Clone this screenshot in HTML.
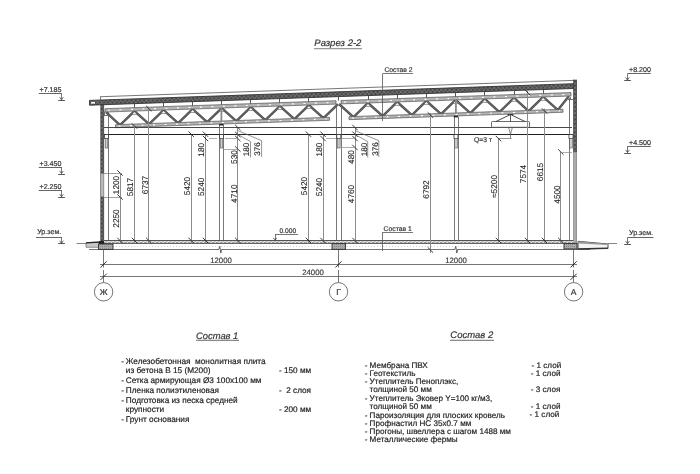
<!DOCTYPE html>
<html><head><meta charset="utf-8"><style>
html,body{margin:0;padding:0;background:#fff;}
svg{display:block;filter:grayscale(1) blur(0.3px);text-rendering:geometricPrecision;font-family:"Liberation Sans",sans-serif;}
</style></head><body>
<svg width="700" height="474" viewBox="0 0 700 474">
<defs>
<pattern id="hatch" width="3" height="3" patternUnits="userSpaceOnUse" patternTransform="rotate(45)"><rect width="3" height="3" fill="#474747"/><rect width="3" height="0.7" fill="#7a7a7a"/><rect width="0.7" height="3" fill="#7a7a7a"/></pattern>
<pattern id="hatch2" width="4" height="3.5" patternUnits="userSpaceOnUse"><rect width="4" height="3.5" fill="#e0e0e0"/><rect x="0" y="1" width="2.6" height="0.9" fill="#666"/><rect x="2" y="2.2" width="2.6" height="0.9" fill="#777"/></pattern>
<pattern id="hatch3" width="2" height="2" patternUnits="userSpaceOnUse"><rect width="2" height="2" fill="#aaa"/><rect width="1" height="1" fill="#888"/></pattern>
</defs>
<rect width="700" height="474" fill="#fff"/>
<line x1="100.00" y1="96.74" x2="573.50" y2="80.40" stroke="#666" stroke-width="0.9" />
<line x1="100.50" y1="96.74" x2="100.50" y2="100.04" stroke="#666" stroke-width="0.8" />
<polygon points="89.50,100.40 573.50,83.70 573.50,88.50 89.50,105.20" fill="url(#hatch)" stroke="#333" stroke-width="0.9" />
<rect x="91.00" y="101.95" width="4.00" height="1.70" fill="#fff" stroke="none" stroke-width="0.9" />
<polyline points="106.00,112.03 120.00,125.15 134.50,111.05 149.07,124.14 163.57,110.04 178.14,123.14 192.64,109.04 207.21,122.14 221.71,108.04 236.28,121.14 250.78,107.04 265.35,120.13 279.85,106.03 294.42,119.13 308.92,105.03 323.49,118.13 338.00,104.03" fill="none" stroke="#4d4d4d" stroke-width="2.4" stroke-linejoin="miter"/>
<polyline points="106.00,112.03 120.00,125.15 134.50,111.05 149.07,124.14 163.57,110.04 178.14,123.14 192.64,109.04 207.21,122.14 221.71,108.04 236.28,121.14 250.78,107.04 265.35,120.13 279.85,106.03 294.42,119.13 308.92,105.03 323.49,118.13 338.00,104.03" fill="none" stroke="#8a8a8a" stroke-width="0.5" stroke-linejoin="miter"/>
<polygon points="131.90,114.45 137.10,114.45 134.50,111.65" fill="#fff" stroke="#555" stroke-width="0.6" />
<polygon points="160.97,113.44 166.17,113.44 163.57,110.64" fill="#fff" stroke="#555" stroke-width="0.6" />
<polygon points="190.04,112.44 195.24,112.44 192.64,109.64" fill="#fff" stroke="#555" stroke-width="0.6" />
<polygon points="219.11,111.44 224.31,111.44 221.71,108.64" fill="#fff" stroke="#555" stroke-width="0.6" />
<polygon points="248.18,110.44 253.38,110.44 250.78,107.64" fill="#fff" stroke="#555" stroke-width="0.6" />
<polygon points="277.25,109.43 282.45,109.43 279.85,106.63" fill="#fff" stroke="#555" stroke-width="0.6" />
<polygon points="306.32,108.43 311.52,108.43 308.92,105.63" fill="#fff" stroke="#555" stroke-width="0.6" />
<polygon points="105.00,108.67 336.00,100.70 336.00,104.10 105.00,112.07" fill="#b4b4b4" stroke="#555" stroke-width="0.7" />
<line x1="108.00" y1="110.26" x2="333.00" y2="102.50" stroke="#fff" stroke-width="1.1" stroke-dasharray="2 9.5"/>
<polygon points="115.50,124.70 329.50,117.32 329.50,120.32 115.50,127.70" fill="#b4b4b4" stroke="#555" stroke-width="0.7" />
<line x1="118.50" y1="126.10" x2="326.50" y2="118.92" stroke="#fff" stroke-width="1.1" stroke-dasharray="2 9.5"/>
<polyline points="339.00,103.99 353.50,117.09 368.00,102.99 382.70,116.08 397.20,101.98 411.90,115.08 426.40,100.98 441.10,114.07 455.60,99.97 470.30,113.06 484.80,98.96 499.50,112.06 514.00,97.95 528.70,111.05 543.20,96.95 557.90,110.04 569.00,96.06" fill="none" stroke="#4d4d4d" stroke-width="2.4" stroke-linejoin="miter"/>
<polyline points="339.00,103.99 353.50,117.09 368.00,102.99 382.70,116.08 397.20,101.98 411.90,115.08 426.40,100.98 441.10,114.07 455.60,99.97 470.30,113.06 484.80,98.96 499.50,112.06 514.00,97.95 528.70,111.05 543.20,96.95 557.90,110.04 569.00,96.06" fill="none" stroke="#8a8a8a" stroke-width="0.5" stroke-linejoin="miter"/>
<polygon points="365.40,106.39 370.60,106.39 368.00,103.59" fill="#fff" stroke="#555" stroke-width="0.6" />
<polygon points="394.60,105.38 399.80,105.38 397.20,102.58" fill="#fff" stroke="#555" stroke-width="0.6" />
<polygon points="423.80,104.38 429.00,104.38 426.40,101.58" fill="#fff" stroke="#555" stroke-width="0.6" />
<polygon points="453.00,103.37 458.20,103.37 455.60,100.57" fill="#fff" stroke="#555" stroke-width="0.6" />
<polygon points="482.20,102.36 487.40,102.36 484.80,99.56" fill="#fff" stroke="#555" stroke-width="0.6" />
<polygon points="511.40,101.35 516.60,101.35 514.00,98.55" fill="#fff" stroke="#555" stroke-width="0.6" />
<polygon points="540.60,100.35 545.80,100.35 543.20,97.55" fill="#fff" stroke="#555" stroke-width="0.6" />
<polygon points="341.00,100.52 571.00,92.59 571.00,95.99 341.00,103.92" fill="#b4b4b4" stroke="#555" stroke-width="0.7" />
<line x1="344.00" y1="102.12" x2="568.00" y2="94.39" stroke="#fff" stroke-width="1.1" stroke-dasharray="2 9.5"/>
<polygon points="349.00,116.65 563.00,109.26 563.00,112.26 349.00,119.65" fill="#b4b4b4" stroke="#555" stroke-width="0.7" />
<line x1="352.00" y1="118.04" x2="560.00" y2="110.87" stroke="#fff" stroke-width="1.1" stroke-dasharray="2 9.5"/>
<line x1="104.50" y1="111.50" x2="104.50" y2="115.20" stroke="#555" stroke-width="0.8" />
<line x1="103.80" y1="115.50" x2="108.50" y2="115.50" stroke="#555" stroke-width="0.8" />
<line x1="570.50" y1="97.00" x2="570.50" y2="99.50" stroke="#555" stroke-width="0.8" />
<line x1="568.00" y1="99.50" x2="573.50" y2="99.50" stroke="#555" stroke-width="0.8" />
<line x1="134.50" y1="103.65" x2="134.50" y2="107.65" stroke="#444" stroke-width="0.9" />
<line x1="163.50" y1="102.64" x2="163.50" y2="106.64" stroke="#444" stroke-width="0.9" />
<line x1="192.50" y1="101.64" x2="192.50" y2="105.64" stroke="#444" stroke-width="0.9" />
<line x1="221.50" y1="100.64" x2="221.50" y2="104.64" stroke="#444" stroke-width="0.9" />
<line x1="250.50" y1="99.64" x2="250.50" y2="103.64" stroke="#444" stroke-width="0.9" />
<line x1="279.50" y1="98.63" x2="279.50" y2="102.63" stroke="#444" stroke-width="0.9" />
<line x1="308.50" y1="97.63" x2="308.50" y2="101.63" stroke="#444" stroke-width="0.9" />
<line x1="368.50" y1="95.59" x2="368.50" y2="99.59" stroke="#444" stroke-width="0.9" />
<line x1="397.50" y1="94.58" x2="397.50" y2="98.58" stroke="#444" stroke-width="0.9" />
<line x1="426.50" y1="93.58" x2="426.50" y2="97.58" stroke="#444" stroke-width="0.9" />
<line x1="455.50" y1="92.57" x2="455.50" y2="96.57" stroke="#444" stroke-width="0.9" />
<line x1="484.50" y1="91.56" x2="484.50" y2="95.56" stroke="#444" stroke-width="0.9" />
<line x1="514.50" y1="90.55" x2="514.50" y2="94.55" stroke="#444" stroke-width="0.9" />
<line x1="543.50" y1="89.55" x2="543.50" y2="93.55" stroke="#444" stroke-width="0.9" />
<line x1="338.50" y1="96.61" x2="338.50" y2="100.61" stroke="#444" stroke-width="0.9" />
<line x1="104.00" y1="127.50" x2="572.00" y2="127.50" stroke="#333" stroke-width="0.9" />
<line x1="104.00" y1="134.50" x2="572.00" y2="134.50" stroke="#222" stroke-width="1.0" />
<rect x="100.80" y="104.84" width="3.00" height="138.16" fill="url(#hatch)" stroke="#333" stroke-width="0.6" />
<rect x="100.90" y="173.50" width="2.80" height="23.00" fill="#b8b8b8" stroke="none" stroke-width="0.9" />
<rect x="573.50" y="80.00" width="3.20" height="72.00" fill="url(#hatch)" stroke="#333" stroke-width="0.6" />
<rect x="573.50" y="152.00" width="3.20" height="91.00" fill="#aaa" stroke="#666" stroke-width="0.5" />
<line x1="108.50" y1="112.00" x2="108.50" y2="240.50" stroke="#555" stroke-width="0.8" />
<line x1="219.50" y1="125.00" x2="219.50" y2="240.50" stroke="#555" stroke-width="0.8" />
<line x1="223.50" y1="125.00" x2="223.50" y2="240.50" stroke="#555" stroke-width="0.8" />
<line x1="336.50" y1="107.00" x2="336.50" y2="240.50" stroke="#555" stroke-width="0.8" />
<line x1="341.50" y1="107.00" x2="341.50" y2="240.50" stroke="#555" stroke-width="0.8" />
<line x1="454.50" y1="117.00" x2="454.50" y2="240.50" stroke="#555" stroke-width="0.8" />
<line x1="458.50" y1="117.00" x2="458.50" y2="240.50" stroke="#555" stroke-width="0.8" />
<line x1="569.50" y1="98.00" x2="569.50" y2="240.50" stroke="#555" stroke-width="0.8" />
<line x1="221.40" y1="108.05" x2="221.40" y2="121.05" stroke="#888" stroke-width="1.8" />
<rect x="219.20" y="123.85" width="4.40" height="1.60" fill="#222" stroke="none" stroke-width="0.9" />
<line x1="455.90" y1="99.96" x2="455.90" y2="112.96" stroke="#888" stroke-width="1.8" />
<rect x="453.70" y="115.76" width="4.40" height="1.60" fill="#222" stroke="none" stroke-width="0.9" />
<rect x="104.50" y="134.50" width="4.00" height="4.00" fill="#fff" stroke="#333" stroke-width="0.8" />
<rect x="105.20" y="138.50" width="2.60" height="9.50" fill="#ccc" stroke="#555" stroke-width="0.6" />
<rect x="219.50" y="134.50" width="4.00" height="4.00" fill="#fff" stroke="#333" stroke-width="0.8" />
<rect x="220.20" y="138.50" width="2.60" height="9.50" fill="#ccc" stroke="#555" stroke-width="0.6" />
<rect x="336.80" y="134.50" width="4.00" height="4.00" fill="#fff" stroke="#333" stroke-width="0.8" />
<rect x="337.50" y="138.50" width="2.60" height="9.50" fill="#ccc" stroke="#555" stroke-width="0.6" />
<rect x="454.00" y="134.50" width="4.00" height="4.00" fill="#fff" stroke="#333" stroke-width="0.8" />
<rect x="454.70" y="138.50" width="2.60" height="9.50" fill="#ccc" stroke="#555" stroke-width="0.6" />
<rect x="569.00" y="134.50" width="4.00" height="4.00" fill="#fff" stroke="#333" stroke-width="0.8" />
<rect x="569.70" y="138.50" width="2.60" height="9.50" fill="#ccc" stroke="#555" stroke-width="0.6" />
<rect x="491.50" y="121.50" width="38.00" height="5.80" fill="#fff" stroke="#444" stroke-width="0.8" rx="0.8"/>
<polyline points="496.00,121.50 510.50,114.50 525.00,121.50" fill="none" stroke="#333" stroke-width="0.9" />
<line x1="510.50" y1="114.50" x2="510.50" y2="121.50" stroke="#333" stroke-width="0.8" />
<line x1="507.50" y1="114.50" x2="513.50" y2="114.50" stroke="#333" stroke-width="0.9" />
<polyline points="508.70,127.80 510.50,134.30 512.30,127.80" fill="none" stroke="#555" stroke-width="0.7" />
<polyline points="510.50,134.30 510.50,138.00 511.50,138.50" fill="none" stroke="#555" stroke-width="0.7" />
<line x1="498.50" y1="138.50" x2="511.00" y2="138.50" stroke="#666" stroke-width="0.7" />
<rect x="104.00" y="240.50" width="469.50" height="3.00" fill="url(#hatch2)" stroke="none" stroke-width="0.9" />
<line x1="104.00" y1="240.50" x2="573.50" y2="240.50" stroke="#444" stroke-width="0.9" />
<line x1="104.00" y1="243.50" x2="573.50" y2="243.50" stroke="#555" stroke-width="0.9" />
<line x1="104.00" y1="246.50" x2="573.50" y2="246.50" stroke="#bbb" stroke-width="0.6" stroke-dasharray="1 2"/>
<line x1="89.00" y1="249.50" x2="590.00" y2="249.50" stroke="#555" stroke-width="0.8" />
<line x1="76.50" y1="243.50" x2="86.00" y2="243.50" stroke="#777" stroke-width="0.9" />
<polygon points="86.00,242.60 99.00,242.00 99.00,247.30 86.00,247.30" fill="#c8c8c8" stroke="#555" stroke-width="0.6" />
<line x1="86.00" y1="242.80" x2="99.00" y2="242.20" stroke="#222" stroke-width="1.3" />
<rect x="99.00" y="241.00" width="5.00" height="3.00" fill="#222" stroke="none" stroke-width="0.9" />
<rect x="98.50" y="244.00" width="14.50" height="5.50" fill="url(#hatch3)" stroke="#333" stroke-width="0.9" />
<rect x="332.00" y="243.50" width="13.50" height="6.00" fill="url(#hatch3)" stroke="#333" stroke-width="0.9" />
<rect x="564.00" y="243.50" width="13.00" height="5.50" fill="url(#hatch3)" stroke="#333" stroke-width="0.9" />
<polygon points="578.00,241.30 608.00,244.00 608.00,248.50 578.00,249.30" fill="#f4f4f4" stroke="#333" stroke-width="0.9" />
<polygon points="578.00,241.30 608.00,244.00 608.00,245.00 578.00,243.50" fill="#999" stroke="none" stroke-width="0.9" />
<line x1="578.00" y1="248.80" x2="608.00" y2="248.10" stroke="#333" stroke-width="1.2" />
<line x1="608.00" y1="243.50" x2="617.00" y2="243.50" stroke="#777" stroke-width="0.9" />
<rect x="217.50" y="247.50" width="5.00" height="4.00" fill="#fff" stroke="none" stroke-width="0.9" />
<polyline points="217.00,249.50 218.80,249.50 219.80,246.30 220.80,253.00 221.60,249.50 223.00,249.50" fill="none" stroke="#444" stroke-width="0.8" />
<rect x="453.50" y="247.50" width="5.00" height="4.00" fill="#fff" stroke="none" stroke-width="0.9" />
<polyline points="453.00,249.50 454.80,249.50 455.80,246.30 456.80,253.00 457.60,249.50 459.00,249.50" fill="none" stroke="#444" stroke-width="0.8" />
<line x1="103.50" y1="249.50" x2="103.50" y2="267.50" stroke="#555" stroke-width="0.8" />
<line x1="103.50" y1="270.00" x2="103.50" y2="283.00" stroke="#555" stroke-width="0.8" />
<circle cx="103.60" cy="291.8" r="9.2" fill="#fff" stroke="#666" stroke-width="0.9"/>
<text x="103.60" y="295.20" font-size="8.5" text-anchor="middle" fill="#333" stroke="#333" stroke-width="0.18" >Ж</text>
<line x1="338.50" y1="249.50" x2="338.50" y2="267.50" stroke="#555" stroke-width="0.8" />
<line x1="338.50" y1="270.00" x2="338.50" y2="283.00" stroke="#555" stroke-width="0.8" />
<circle cx="338.50" cy="291.8" r="9.2" fill="#fff" stroke="#666" stroke-width="0.9"/>
<text x="338.50" y="295.20" font-size="8.5" text-anchor="middle" fill="#333" stroke="#333" stroke-width="0.18" >Г</text>
<line x1="573.50" y1="249.50" x2="573.50" y2="267.50" stroke="#555" stroke-width="0.8" />
<line x1="573.50" y1="270.00" x2="573.50" y2="283.00" stroke="#555" stroke-width="0.8" />
<circle cx="573.60" cy="291.8" r="9.2" fill="#fff" stroke="#666" stroke-width="0.9"/>
<text x="573.60" y="295.20" font-size="8.5" text-anchor="middle" fill="#333" stroke="#333" stroke-width="0.18" >А</text>
<line x1="100.00" y1="264.50" x2="577.00" y2="264.50" stroke="#666" stroke-width="0.9" />
<line x1="100.00" y1="276.50" x2="577.00" y2="276.50" stroke="#666" stroke-width="0.9" />
<line x1="100.50" y1="267.50" x2="106.70" y2="261.30" stroke="#222" stroke-width="0.9" />
<line x1="335.40" y1="267.50" x2="341.60" y2="261.30" stroke="#222" stroke-width="0.9" />
<line x1="570.50" y1="267.50" x2="576.70" y2="261.30" stroke="#222" stroke-width="0.9" />
<line x1="100.50" y1="279.90" x2="106.70" y2="273.70" stroke="#222" stroke-width="0.9" />
<line x1="570.50" y1="279.90" x2="576.70" y2="273.70" stroke="#222" stroke-width="0.9" />
<text x="221.00" y="262.50" font-size="7.8" text-anchor="middle" fill="#444" stroke="#444" stroke-width="0.18" >12000</text>
<text x="456.00" y="262.50" font-size="7.8" text-anchor="middle" fill="#444" stroke="#444" stroke-width="0.18" >12000</text>
<text x="313.00" y="275.40" font-size="7.8" text-anchor="middle" fill="#444" stroke="#444" stroke-width="0.18" >24000</text>
<line x1="120.50" y1="173.00" x2="120.50" y2="243.50" stroke="#8c8c8c" stroke-width="1.0" />
<line x1="117.30" y1="170.30" x2="122.70" y2="175.70" stroke="#222" stroke-width="0.9" />
<line x1="117.30" y1="194.30" x2="122.70" y2="199.70" stroke="#222" stroke-width="0.9" />
<line x1="117.30" y1="237.80" x2="122.70" y2="243.20" stroke="#222" stroke-width="0.9" />
<text x="0" y="0" font-size="8.3" text-anchor="middle" fill="#222" stroke="#222" stroke-width="0.108" transform="translate(118.79,185.00) rotate(-90)">1200</text>
<text x="0" y="0" font-size="8.3" text-anchor="middle" fill="#222" stroke="#222" stroke-width="0.108" transform="translate(118.79,218.50) rotate(-90)">2250</text>
<line x1="134.50" y1="126.00" x2="134.50" y2="243.50" stroke="#8c8c8c" stroke-width="1.0" />
<line x1="131.80" y1="123.30" x2="137.20" y2="128.70" stroke="#222" stroke-width="0.9" />
<line x1="131.80" y1="237.80" x2="137.20" y2="243.20" stroke="#222" stroke-width="0.9" />
<text x="0" y="0" font-size="8.3" text-anchor="middle" fill="#222" stroke="#222" stroke-width="0.108" transform="translate(133.29,187.00) rotate(-90)">5817</text>
<line x1="148.50" y1="108.50" x2="148.50" y2="243.50" stroke="#8c8c8c" stroke-width="1.0" />
<line x1="146.10" y1="105.80" x2="151.50" y2="111.20" stroke="#222" stroke-width="0.9" />
<line x1="146.10" y1="237.80" x2="151.50" y2="243.20" stroke="#222" stroke-width="0.9" />
<text x="0" y="0" font-size="8.3" text-anchor="middle" fill="#222" stroke="#222" stroke-width="0.108" transform="translate(147.59,185.00) rotate(-90)">6737</text>
<line x1="191.50" y1="134.20" x2="191.50" y2="243.50" stroke="#8c8c8c" stroke-width="1.0" />
<line x1="188.50" y1="131.50" x2="193.90" y2="136.90" stroke="#222" stroke-width="0.9" />
<line x1="188.50" y1="237.80" x2="193.90" y2="243.20" stroke="#222" stroke-width="0.9" />
<text x="0" y="0" font-size="8.3" text-anchor="middle" fill="#222" stroke="#222" stroke-width="0.108" transform="translate(189.99,186.00) rotate(-90)">5420</text>
<line x1="205.50" y1="134.20" x2="205.50" y2="243.50" stroke="#8c8c8c" stroke-width="1.0" />
<line x1="202.80" y1="131.50" x2="208.20" y2="136.90" stroke="#222" stroke-width="0.9" />
<line x1="202.80" y1="135.80" x2="208.20" y2="141.20" stroke="#222" stroke-width="0.9" />
<line x1="202.80" y1="237.80" x2="208.20" y2="243.20" stroke="#222" stroke-width="0.9" />
<text x="0" y="0" font-size="8.3" text-anchor="middle" fill="#222" stroke="#222" stroke-width="0.108" transform="translate(204.29,149.80) rotate(-90)">180</text>
<text x="0" y="0" font-size="8.3" text-anchor="middle" fill="#222" stroke="#222" stroke-width="0.108" transform="translate(204.29,186.80) rotate(-90)">5240</text>
<line x1="237.50" y1="127.50" x2="237.50" y2="243.50" stroke="#8c8c8c" stroke-width="1.0" />
<line x1="235.10" y1="124.80" x2="240.50" y2="130.20" stroke="#222" stroke-width="0.9" />
<line x1="235.10" y1="131.80" x2="240.50" y2="137.20" stroke="#222" stroke-width="0.9" />
<line x1="235.10" y1="135.80" x2="240.50" y2="141.20" stroke="#222" stroke-width="0.9" />
<line x1="235.10" y1="146.30" x2="240.50" y2="151.70" stroke="#222" stroke-width="0.9" />
<line x1="235.10" y1="237.80" x2="240.50" y2="243.20" stroke="#222" stroke-width="0.9" />
<text x="0" y="0" font-size="8.3" text-anchor="middle" fill="#222" stroke="#222" stroke-width="0.108" transform="translate(236.59,157.00) rotate(-90)">530</text>
<text x="0" y="0" font-size="8.3" text-anchor="middle" fill="#222" stroke="#222" stroke-width="0.108" transform="translate(236.59,193.70) rotate(-90)">4710</text>
<line x1="308.50" y1="134.20" x2="308.50" y2="243.50" stroke="#8c8c8c" stroke-width="1.0" />
<line x1="305.80" y1="131.50" x2="311.20" y2="136.90" stroke="#222" stroke-width="0.9" />
<line x1="305.80" y1="237.80" x2="311.20" y2="243.20" stroke="#222" stroke-width="0.9" />
<text x="0" y="0" font-size="8.3" text-anchor="middle" fill="#222" stroke="#222" stroke-width="0.108" transform="translate(307.29,186.00) rotate(-90)">5420</text>
<line x1="323.50" y1="134.20" x2="323.50" y2="243.50" stroke="#8c8c8c" stroke-width="1.0" />
<line x1="320.30" y1="131.50" x2="325.70" y2="136.90" stroke="#222" stroke-width="0.9" />
<line x1="320.30" y1="135.80" x2="325.70" y2="141.20" stroke="#222" stroke-width="0.9" />
<line x1="320.30" y1="237.80" x2="325.70" y2="243.20" stroke="#222" stroke-width="0.9" />
<text x="0" y="0" font-size="8.3" text-anchor="middle" fill="#222" stroke="#222" stroke-width="0.108" transform="translate(321.79,149.50) rotate(-90)">180</text>
<text x="0" y="0" font-size="8.3" text-anchor="middle" fill="#222" stroke="#222" stroke-width="0.108" transform="translate(321.79,187.00) rotate(-90)">5240</text>
<line x1="355.50" y1="127.50" x2="355.50" y2="243.50" stroke="#8c8c8c" stroke-width="1.0" />
<line x1="352.30" y1="124.80" x2="357.70" y2="130.20" stroke="#222" stroke-width="0.9" />
<line x1="352.30" y1="131.50" x2="357.70" y2="136.90" stroke="#222" stroke-width="0.9" />
<line x1="352.30" y1="135.80" x2="357.70" y2="141.20" stroke="#222" stroke-width="0.9" />
<line x1="352.30" y1="144.80" x2="357.70" y2="150.20" stroke="#222" stroke-width="0.9" />
<line x1="352.30" y1="237.80" x2="357.70" y2="243.20" stroke="#222" stroke-width="0.9" />
<text x="0" y="0" font-size="8.3" text-anchor="middle" fill="#222" stroke="#222" stroke-width="0.108" transform="translate(353.79,157.00) rotate(-90)">480</text>
<text x="0" y="0" font-size="8.3" text-anchor="middle" fill="#222" stroke="#222" stroke-width="0.108" transform="translate(353.79,194.00) rotate(-90)">4760</text>
<line x1="430.50" y1="113.00" x2="430.50" y2="253.00" stroke="#8c8c8c" stroke-width="1.0" />
<line x1="427.70" y1="112.30" x2="433.10" y2="117.70" stroke="#222" stroke-width="0.9" />
<line x1="427.70" y1="247.30" x2="433.10" y2="252.70" stroke="#222" stroke-width="0.9" />
<text x="0" y="0" font-size="8.3" text-anchor="middle" fill="#222" stroke="#222" stroke-width="0.108" transform="translate(429.19,189.50) rotate(-90)">6792</text>
<line x1="498.50" y1="138.60" x2="498.50" y2="243.50" stroke="#8c8c8c" stroke-width="1.0" />
<line x1="495.80" y1="135.90" x2="501.20" y2="141.30" stroke="#222" stroke-width="0.9" />
<line x1="495.80" y1="237.80" x2="501.20" y2="243.20" stroke="#222" stroke-width="0.9" />
<text x="0" y="0" font-size="8.3" text-anchor="middle" fill="#222" stroke="#222" stroke-width="0.108" transform="translate(497.29,186.50) rotate(-90)">≈5200</text>
<line x1="527.50" y1="90.00" x2="527.50" y2="243.50" stroke="#8c8c8c" stroke-width="1.0" />
<line x1="524.90" y1="89.80" x2="530.30" y2="95.20" stroke="#222" stroke-width="0.9" />
<line x1="524.90" y1="237.80" x2="530.30" y2="243.20" stroke="#222" stroke-width="0.9" />
<text x="0" y="0" font-size="8.3" text-anchor="middle" fill="#222" stroke="#222" stroke-width="0.108" transform="translate(526.39,174.00) rotate(-90)">7574</text>
<line x1="544.50" y1="108.50" x2="544.50" y2="243.50" stroke="#8c8c8c" stroke-width="1.0" />
<line x1="541.80" y1="108.30" x2="547.20" y2="113.70" stroke="#222" stroke-width="0.9" />
<line x1="541.80" y1="237.80" x2="547.20" y2="243.20" stroke="#222" stroke-width="0.9" />
<text x="0" y="0" font-size="8.3" text-anchor="middle" fill="#222" stroke="#222" stroke-width="0.108" transform="translate(543.29,172.00) rotate(-90)">6615</text>
<line x1="560.50" y1="152.00" x2="560.50" y2="243.50" stroke="#8c8c8c" stroke-width="1.0" />
<line x1="558.10" y1="149.30" x2="563.50" y2="154.70" stroke="#222" stroke-width="0.9" />
<line x1="558.10" y1="237.80" x2="563.50" y2="243.20" stroke="#222" stroke-width="0.9" />
<text x="0" y="0" font-size="8.3" text-anchor="middle" fill="#222" stroke="#222" stroke-width="0.108" transform="translate(559.59,194.50) rotate(-90)">4500</text>
<line x1="104.00" y1="173.50" x2="122.00" y2="173.50" stroke="#777" stroke-width="0.7" />
<line x1="104.00" y1="197.50" x2="122.00" y2="197.50" stroke="#777" stroke-width="0.7" />
<line x1="209.00" y1="138.50" x2="217.00" y2="138.50" stroke="#888" stroke-width="0.7" />
<line x1="225.00" y1="138.50" x2="237.80" y2="138.50" stroke="#888" stroke-width="0.7" />
<line x1="223.00" y1="149.50" x2="237.80" y2="149.50" stroke="#888" stroke-width="0.7" />
<line x1="326.00" y1="138.50" x2="336.00" y2="138.50" stroke="#888" stroke-width="0.7" />
<line x1="341.00" y1="138.50" x2="355.00" y2="138.50" stroke="#888" stroke-width="0.7" />
<line x1="341.00" y1="147.50" x2="355.00" y2="147.50" stroke="#888" stroke-width="0.7" />
<line x1="560.80" y1="152.50" x2="572.00" y2="152.50" stroke="#888" stroke-width="0.7" />
<polyline points="237.80,134.50 250.50,141.50 250.50,157.50" fill="none" stroke="#666" stroke-width="0.7" />
<polyline points="238.10,130.70 261.60,140.70 261.60,157.00" fill="none" stroke="#666" stroke-width="0.7" />
<text x="0" y="0" font-size="8.1" text-anchor="middle" fill="#222" stroke="#222" stroke-width="0.108" transform="translate(249.32,149.60) rotate(-90)">180</text>
<text x="0" y="0" font-size="8.1" text-anchor="middle" fill="#222" stroke="#222" stroke-width="0.108" transform="translate(260.32,148.90) rotate(-90)">376</text>
<polyline points="355.00,134.50 367.70,141.50 367.70,157.50" fill="none" stroke="#666" stroke-width="0.7" />
<polyline points="355.30,130.70 378.80,140.70 378.80,157.00" fill="none" stroke="#666" stroke-width="0.7" />
<text x="0" y="0" font-size="8.1" text-anchor="middle" fill="#222" stroke="#222" stroke-width="0.108" transform="translate(366.52,149.60) rotate(-90)">180</text>
<text x="0" y="0" font-size="8.1" text-anchor="middle" fill="#222" stroke="#222" stroke-width="0.108" transform="translate(377.52,148.90) rotate(-90)">376</text>
<text x="39.50" y="92.00" font-size="7.1" text-anchor="start" fill="#333" stroke="#333" stroke-width="0.18" >+7.185</text>
<line x1="38.80" y1="93.50" x2="62.00" y2="93.50" stroke="#555" stroke-width="0.9" />
<line x1="61.50" y1="93.50" x2="61.50" y2="99.80" stroke="#555" stroke-width="0.8" />
<polyline points="59.70,97.20 61.50,99.80 63.30,97.20" fill="none" stroke="#444" stroke-width="0.8" />
<line x1="58.20" y1="100.50" x2="64.90" y2="100.50" stroke="#444" stroke-width="0.9" />
<text x="39.50" y="165.75" font-size="7.1" text-anchor="start" fill="#333" stroke="#333" stroke-width="0.18" >+3.450</text>
<line x1="38.80" y1="167.50" x2="62.00" y2="167.50" stroke="#555" stroke-width="0.9" />
<line x1="61.50" y1="167.25" x2="61.50" y2="173.55" stroke="#555" stroke-width="0.8" />
<polyline points="59.70,170.95 61.50,173.55 63.30,170.95" fill="none" stroke="#444" stroke-width="0.8" />
<line x1="58.20" y1="174.50" x2="64.90" y2="174.50" stroke="#444" stroke-width="0.9" />
<text x="39.50" y="189.00" font-size="7.1" text-anchor="start" fill="#333" stroke="#333" stroke-width="0.18" >+2.250</text>
<line x1="38.80" y1="190.50" x2="62.00" y2="190.50" stroke="#555" stroke-width="0.9" />
<line x1="61.50" y1="190.50" x2="61.50" y2="196.80" stroke="#555" stroke-width="0.8" />
<polyline points="59.70,194.20 61.50,196.80 63.30,194.20" fill="none" stroke="#444" stroke-width="0.8" />
<line x1="58.20" y1="197.50" x2="64.90" y2="197.50" stroke="#444" stroke-width="0.9" />
<text x="37.20" y="234.40" font-size="7.1" text-anchor="start" fill="#333" stroke="#333" stroke-width="0.18" >Ур.зем.</text>
<line x1="36.00" y1="237.50" x2="62.00" y2="237.50" stroke="#555" stroke-width="0.9" />
<line x1="61.50" y1="237.00" x2="61.50" y2="243.30" stroke="#555" stroke-width="0.8" />
<polyline points="59.70,240.70 61.50,243.30 63.30,240.70" fill="none" stroke="#444" stroke-width="0.8" />
<line x1="58.20" y1="243.50" x2="64.90" y2="243.50" stroke="#444" stroke-width="0.9" />
<text x="629.00" y="72.25" font-size="7.1" text-anchor="start" fill="#333" stroke="#333" stroke-width="0.18" >+8.200</text>
<line x1="627.50" y1="73.50" x2="650.80" y2="73.50" stroke="#555" stroke-width="0.9" />
<line x1="627.50" y1="73.75" x2="627.50" y2="80.05" stroke="#555" stroke-width="0.8" />
<polyline points="625.70,77.45 627.50,80.05 629.30,77.45" fill="none" stroke="#444" stroke-width="0.8" />
<line x1="624.20" y1="80.50" x2="630.90" y2="80.50" stroke="#444" stroke-width="0.9" />
<text x="629.00" y="144.75" font-size="7.1" text-anchor="start" fill="#333" stroke="#333" stroke-width="0.18" >+4.500</text>
<line x1="627.50" y1="146.50" x2="650.80" y2="146.50" stroke="#555" stroke-width="0.9" />
<line x1="627.50" y1="146.25" x2="627.50" y2="152.55" stroke="#555" stroke-width="0.8" />
<polyline points="625.70,149.95 627.50,152.55 629.30,149.95" fill="none" stroke="#444" stroke-width="0.8" />
<line x1="624.20" y1="153.50" x2="630.90" y2="153.50" stroke="#444" stroke-width="0.9" />
<text x="629.00" y="234.80" font-size="7.1" text-anchor="start" fill="#333" stroke="#333" stroke-width="0.18" >Ур.зем.</text>
<line x1="627.50" y1="237.50" x2="653.50" y2="237.50" stroke="#555" stroke-width="0.9" />
<line x1="627.50" y1="237.40" x2="627.50" y2="243.70" stroke="#555" stroke-width="0.8" />
<polyline points="625.70,241.10 627.50,243.70 629.30,241.10" fill="none" stroke="#444" stroke-width="0.8" />
<line x1="624.20" y1="244.50" x2="630.90" y2="244.50" stroke="#444" stroke-width="0.9" />
<text x="279.40" y="232.90" font-size="6.7" text-anchor="start" fill="#333" stroke="#333" stroke-width="0.18" >0.000</text>
<line x1="275.00" y1="234.50" x2="298.00" y2="234.50" stroke="#555" stroke-width="0.8" />
<line x1="275.50" y1="234.00" x2="275.50" y2="240.50" stroke="#555" stroke-width="0.8" />
<polyline points="273.30,237.80 275.00,240.50 276.70,237.80" fill="none" stroke="#444" stroke-width="0.8" />
<text x="383.60" y="231.10" font-size="6.8" text-anchor="start" fill="#333" stroke="#333" stroke-width="0.18" >Состав 1</text>
<line x1="382.60" y1="232.50" x2="413.00" y2="232.50" stroke="#555" stroke-width="0.8" />
<line x1="382.50" y1="232.20" x2="382.50" y2="251.00" stroke="#555" stroke-width="0.8" />
<text x="384.40" y="72.00" font-size="6.8" text-anchor="start" fill="#333" stroke="#333" stroke-width="0.18" >Состав 2</text>
<line x1="382.60" y1="73.50" x2="413.00" y2="73.50" stroke="#555" stroke-width="0.8" />
<line x1="382.50" y1="73.60" x2="382.50" y2="121.00" stroke="#555" stroke-width="0.8" />
<text x="474.00" y="142.40" font-size="6.8" text-anchor="start" fill="#333" stroke="#333" stroke-width="0.18" >Q=3 т</text>
<text x="314.30" y="46.30" font-size="9.5" text-anchor="start" fill="#333" stroke="#333" stroke-width="0.18" font-style="italic">Разрез 2-2</text>
<line x1="314.00" y1="48.60" x2="362.00" y2="48.60" stroke="#999" stroke-width="1.2" />
<text x="196.00" y="338.60" font-size="9.4" text-anchor="start" fill="#333" stroke="#333" stroke-width="0.18" font-style="italic">Состав 1</text>
<line x1="196.00" y1="340.40" x2="239.00" y2="340.40" stroke="#888" stroke-width="1.1" />
<text x="450.30" y="338.30" font-size="9.5" text-anchor="start" fill="#333" stroke="#333" stroke-width="0.18" font-style="italic">Состав 2</text>
<line x1="450.00" y1="340.40" x2="494.00" y2="340.40" stroke="#888" stroke-width="1.1" />
<text x="121.30" y="363.90" font-size="8.25" text-anchor="start" fill="#222" stroke="#222" stroke-width="0.18" >-</text>
<text x="125.80" y="363.90" font-size="8.25" text-anchor="start" fill="#222" stroke="#222" stroke-width="0.18" >Железобетонная&#160; монолитная плита</text>
<text x="125.80" y="373.40" font-size="8.25" text-anchor="start" fill="#222" stroke="#222" stroke-width="0.18" >из бетона В 15 (М200)</text>
<text x="121.30" y="383.20" font-size="8.25" text-anchor="start" fill="#222" stroke="#222" stroke-width="0.18" >-</text>
<text x="125.80" y="383.20" font-size="8.25" text-anchor="start" fill="#222" stroke="#222" stroke-width="0.18" >Сетка армирующая Ø3 100х100 мм</text>
<text x="121.30" y="393.00" font-size="8.25" text-anchor="start" fill="#222" stroke="#222" stroke-width="0.18" >-</text>
<text x="125.80" y="393.00" font-size="8.25" text-anchor="start" fill="#222" stroke="#222" stroke-width="0.18" >Пленка полиэтиленовая</text>
<text x="121.30" y="403.00" font-size="8.25" text-anchor="start" fill="#222" stroke="#222" stroke-width="0.18" >-</text>
<text x="125.80" y="403.00" font-size="8.25" text-anchor="start" fill="#222" stroke="#222" stroke-width="0.18" >Подготовка из песка средней</text>
<text x="125.80" y="412.20" font-size="8.25" text-anchor="start" fill="#222" stroke="#222" stroke-width="0.18" >крупности</text>
<text x="121.30" y="422.00" font-size="8.25" text-anchor="start" fill="#222" stroke="#222" stroke-width="0.18" >-</text>
<text x="125.80" y="422.00" font-size="8.25" text-anchor="start" fill="#222" stroke="#222" stroke-width="0.18" >Грунт основания</text>
<text x="279.00" y="373.00" font-size="8.2" text-anchor="start" fill="#222" stroke="#222" stroke-width="0.18" >-&#160;150&#160;мм</text>
<text x="279.00" y="392.70" font-size="8.2" text-anchor="start" fill="#222" stroke="#222" stroke-width="0.18" >-&#160;&#160;2&#160;слоя</text>
<text x="279.00" y="412.20" font-size="8.2" text-anchor="start" fill="#222" stroke="#222" stroke-width="0.18" >-&#160;200&#160;мм</text>
<text x="364.80" y="367.80" font-size="8.15" text-anchor="start" fill="#222" stroke="#222" stroke-width="0.18" >-</text>
<text x="369.60" y="367.80" font-size="8.15" text-anchor="start" fill="#222" stroke="#222" stroke-width="0.18" >Мембрана ПВХ</text>
<text x="364.80" y="376.20" font-size="8.15" text-anchor="start" fill="#222" stroke="#222" stroke-width="0.18" >-</text>
<text x="369.60" y="376.20" font-size="8.15" text-anchor="start" fill="#222" stroke="#222" stroke-width="0.18" >Геотекстиль</text>
<text x="364.80" y="384.00" font-size="8.15" text-anchor="start" fill="#222" stroke="#222" stroke-width="0.18" >-</text>
<text x="369.60" y="384.00" font-size="8.15" text-anchor="start" fill="#222" stroke="#222" stroke-width="0.18" >Утеплитель Пеноплэкс,</text>
<text x="369.60" y="392.00" font-size="8.15" text-anchor="start" fill="#222" stroke="#222" stroke-width="0.18" >толщиной 50 мм</text>
<text x="364.80" y="401.40" font-size="8.15" text-anchor="start" fill="#222" stroke="#222" stroke-width="0.18" >-</text>
<text x="369.60" y="401.40" font-size="8.15" text-anchor="start" fill="#222" stroke="#222" stroke-width="0.18" >Утеплитель Эковер Y=100 кг/м3,</text>
<text x="369.60" y="409.30" font-size="8.15" text-anchor="start" fill="#222" stroke="#222" stroke-width="0.18" >толщиной 50 мм</text>
<text x="364.80" y="417.70" font-size="8.15" text-anchor="start" fill="#222" stroke="#222" stroke-width="0.18" >-</text>
<text x="369.60" y="417.70" font-size="8.15" text-anchor="start" fill="#222" stroke="#222" stroke-width="0.18" >Пароизоляция для плоских кровель</text>
<text x="364.80" y="425.60" font-size="8.15" text-anchor="start" fill="#222" stroke="#222" stroke-width="0.18" >-</text>
<text x="369.60" y="425.60" font-size="8.15" text-anchor="start" fill="#222" stroke="#222" stroke-width="0.18" >Профнастил НС 35х0.7 мм</text>
<text x="364.80" y="434.00" font-size="8.15" text-anchor="start" fill="#222" stroke="#222" stroke-width="0.18" >-</text>
<text x="369.60" y="434.00" font-size="8.15" text-anchor="start" fill="#222" stroke="#222" stroke-width="0.18" >Прогоны, швеллера с шагом 1488 мм</text>
<text x="364.80" y="442.20" font-size="8.15" text-anchor="start" fill="#222" stroke="#222" stroke-width="0.18" >-</text>
<text x="369.60" y="442.20" font-size="8.15" text-anchor="start" fill="#222" stroke="#222" stroke-width="0.18" >Металлические фермы</text>
<text x="531.50" y="367.70" font-size="8.15" text-anchor="start" fill="#222" stroke="#222" stroke-width="0.18" >- 1 слой</text>
<text x="530.80" y="376.10" font-size="8.15" text-anchor="start" fill="#222" stroke="#222" stroke-width="0.18" >- 1 слой</text>
<text x="530.80" y="392.40" font-size="8.15" text-anchor="start" fill="#222" stroke="#222" stroke-width="0.18" >- 3 слоя</text>
<text x="530.80" y="408.90" font-size="8.15" text-anchor="start" fill="#222" stroke="#222" stroke-width="0.18" >- 1 слой</text>
<text x="529.60" y="416.80" font-size="8.15" text-anchor="start" fill="#222" stroke="#222" stroke-width="0.18" >- 1 слой</text>
</svg>
</body></html>
